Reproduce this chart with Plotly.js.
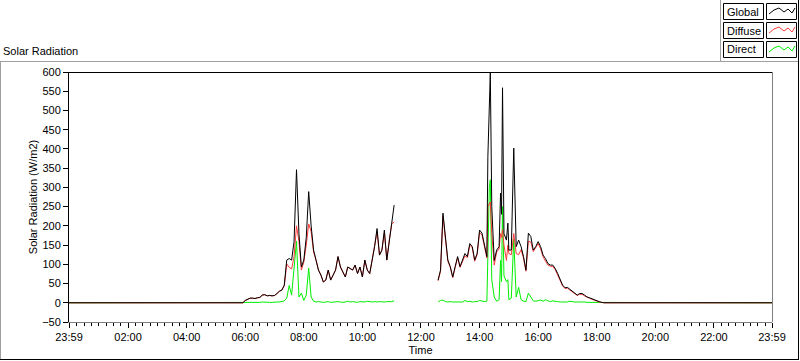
<!DOCTYPE html>
<html>
<head>
<meta charset="utf-8">
<script src="https://cdn.plot.ly/plotly-3.0.1.min.js"></script>
<style>html,body{margin:0;padding:0;background:#fff;}#chart{width:800px;height:361px;}</style>
</head>
<body>
<div id="chart"></div>
<script>
// ---- data ----
const seriesNames = ['Global', 'Diffuse', 'Direct'];
const times = ['23:59',
 '05:55','06:00','06:05','06:10','06:15','06:20','06:25','06:30','06:35','06:40','06:45','06:50','06:55',
 '07:00','07:05','07:10','07:15','07:20','07:25','07:30','07:35','07:40','07:45','07:50','07:55',
 '08:00','08:05','08:10','08:15','08:20','08:25','08:30','08:35','08:40','08:45','08:50','08:55',
 '09:00','09:05','09:10','09:15','09:20','09:25','09:30','09:35','09:40','09:45','09:50','09:55',
 '10:00','10:05','10:10','10:15','10:20','10:25','10:30','10:35','10:40','10:45','10:50','10:55',
 '11:00','11:05',
 '11:50',
 '12:35','12:40','12:45','12:50','12:55',
 '13:00','13:05','13:10','13:15','13:20','13:25','13:30','13:35','13:40','13:45','13:50','13:55',
 '14:00','14:05','14:10','14:15','14:17','14:20','14:22','14:25','14:30','14:35','14:40','14:43','14:45','14:47','14:50','14:55','14:58',
 '15:00','15:05','15:10','15:15','15:20','15:25','15:30','15:35','15:40','15:45','15:50','15:55',
 '16:00','16:05','16:10','16:15','16:20','16:25','16:30','16:35','16:40','16:45','16:50','16:55',
 '17:00','17:05','17:10','17:15','17:20','17:25','17:30','17:35','17:40','17:45','17:50','17:55',
 '18:00','18:05','18:10','18:15',
 '23:59'];

const globalRad = [0,
 0,6,9,12,12,11,13,14,20,21,18,19,18,
 19,24,30,33,46,111,115,111,159,346,180,93,
 111,170,289,200,137,111,85,72,54,59,85,59,
 72,85,120,93,80,67,93,89,85,98,76,93,
 67,111,85,76,111,146,193,124,137,189,111,163,
 211,254,
 null,
 59,85,233,163,111,
 94,67,94,120,94,111,128,120,154,146,111,128,
 189,181,146,120,380,520,598,250,110,137,146,285,230,559,180,163,207,
 137,137,402,146,163,146,120,85,181,172,137,146,
 159,146,124,115,102,98,98,89,76,63,46,39,
 40,35,30,24,20,24,24,20,15,13,10,7,
 5,3,1,0,
 0];

const diffuseRad = [0,
 0,6,9,12,12,11,13,14,20,21,18,19,18,
 19,24,30,33,44,101,92,88,120,200,160,85,
 106,150,205,185,132,111,85,72,54,59,85,59,
 72,85,120,93,80,67,93,89,85,98,76,93,
 67,111,85,76,111,140,185,124,137,182,111,163,
 205,210,
 null,
 57,82,225,160,108,
 92,65,92,117,92,109,122,117,150,143,108,125,
 183,176,142,116,250,259,262,180,98,132,140,180,170,190,150,110,150,
 128,125,180,128,125,138,116,82,160,158,133,142,
 154,140,120,108,98,95,94,86,73,61,44,37,
 38,33,28,22,19,22,22,18,14,12,9,6,
 4,2,1,0,
 0];

const directRad = [0,
 0,1,1,1,1,1,1,1,2,1,1,1,1,
 2,2,2,3,5,12,45,20,100,160,15,25,
 6,20,90,15,4,2,3,2,1,2,3,1,
 2,2,3,2,1,2,4,2,3,2,1,3,
 2,2,4,2,2,3,2,3,2,2,3,2,
 3,5,
 null,
 2,6,7,3,2,
 3,2,2,3,2,2,6,3,4,2,3,3,
 6,4,3,4,120,300,320,60,15,4,8,110,55,250,70,55,60,
 8,12,165,15,40,8,4,3,25,15,5,4,
 5,7,4,8,5,3,5,3,3,2,2,3,
 2,4,2,2,2,2,3,2,1,1,1,1,
 0,0,0,0,
 0];

const xTickVals = ['2010-06-14 23:59','2010-06-15 02:00','2010-06-15 04:00','2010-06-15 06:00','2010-06-15 08:00',
 '2010-06-15 10:00','2010-06-15 12:00','2010-06-15 14:00','2010-06-15 16:00','2010-06-15 18:00',
 '2010-06-15 20:00','2010-06-15 22:00','2010-06-15 23:59'];
const xTickText = ['23:59','02:00','04:00','06:00','08:00','10:00','12:00','14:00','16:00','18:00','20:00','22:00','23:59'];

// ---- build ----
const xs = times.map((t, i) => (i === 0 ? '2010-06-14 ' : '2010-06-15 ') + t);
const colors = {Global: '#000000', Diffuse: '#ff3b3b', Direct: '#00ee00'};
const FONT = {family: '"Liberation Sans", Arial, sans-serif', size: 11, color: '#000'};

const traces = [
  {x: xs, y: directRad, name: 'Direct', type: 'scatter', mode: 'lines', line: {color: colors.Direct, width: 1}, connectgaps: false},
  {x: xs, y: diffuseRad, name: 'Diffuse', type: 'scatter', mode: 'lines', line: {color: colors.Diffuse, width: 1}, connectgaps: false},
  {x: xs, y: globalRad, name: 'Global', type: 'scatter', mode: 'lines', line: {color: colors.Global, width: 1}, connectgaps: false}
];

const L = 69, T = 72, PW = 703, PH = 250;
const px = x => (x - L) / PW;
const py = y => (T + PH - y) / PH;
function seg(x0, y0, x1, y1, c) {
  return {type: 'line', xref: 'paper', yref: 'paper', x0: px(x0), y0: py(y0), x1: px(x1), y1: py(y1), line: {color: c, width: 1}};
}
function box(x0, y0, x1, y1) {
  return {type: 'rect', xref: 'paper', yref: 'paper', x0: px(x0), y0: py(y0), x1: px(x1), y1: py(y1), line: {color: '#000', width: 1}, fillcolor: '#fff'};
}

const shapes = [
  // plot frame (top black, right grey)
  seg(69, 72.5, 772, 72.5, '#000'),
  seg(772.5, 72, 772.5, 322, '#808080'),
  // outer panel frame
  seg(0, 61.5, 798, 61.5, '#a0a0a0'),
  seg(0.5, 61, 0.5, 360, '#a0a0a0'),
  seg(798.5, 0, 798.5, 360, '#000'),
  seg(0, 359.5, 799, 359.5, '#000'),
  seg(720.5, 0, 720.5, 61, '#a0a0a0')
];
const annotations = [];
const zig = [[769, 14], [774, 10], [779, 8], [784, 12], [788, 9], [792, 13], [795, 8]];
seriesNames.forEach((n, i) => {
  const oy = 3.5 + i * 19;
  shapes.push(box(723.5, oy, 763.5, oy + 16));
  shapes.push(box(766.5, oy, 796.5, oy + 16));
  const path = zig.map((p, k) => (k ? 'L' : 'M') + px(p[0]) + ',' + py(p[1] + i * 19)).join(' ');
  shapes.push({type: 'path', xref: 'paper', yref: 'paper', path: path, line: {color: colors[n], width: 1}});
  annotations.push({xref: 'paper', yref: 'paper', x: px(725), y: py(oy + 8), xanchor: 'left', yanchor: 'middle',
    text: n, showarrow: false, font: FONT});
});

const layout = {
  width: 800, height: 361,
  margin: {l: L, r: 800 - L - PW, t: T, b: 361 - T - PH, pad: 0},
  paper_bgcolor: '#fff', plot_bgcolor: '#fff',
  showlegend: false,
  font: FONT,
  title: {text: 'Solar Radiation', xref: 'container', yref: 'container', x: 3 / 800, xanchor: 'left', y: 1 - 51 / 361, yanchor: 'middle', font: FONT},
  xaxis: {
    type: 'date', range: ['2010-06-14 23:59', '2010-06-15 23:59'],
    tickmode: 'array', tickvals: xTickVals, ticktext: xTickText,
    ticks: 'outside', ticklen: 5, tickcolor: '#000', tickwidth: 1,
    minor: {tickmode: 'linear', tick0: '2010-06-15 00:00', dtick: 15 * 60 * 1000, ticks: 'outside', ticklen: 3, tickcolor: '#000', showgrid: false},
    showgrid: false, zeroline: false, showline: true, linecolor: '#808080', linewidth: 1,
    tickfont: FONT, automargin: false,
    title: {text: 'Time', font: FONT, standoff: 4}
  },
  yaxis: {
    range: [-50, 600], tickmode: 'linear', tick0: 0, dtick: 50,
    ticks: 'outside', ticklen: 5, tickcolor: '#000', tickwidth: 1,
    showgrid: false, zeroline: false, showline: true, linecolor: '#000', linewidth: 1,
    tickfont: FONT, automargin: false,
    title: {text: 'Solar Radiation (W/m2)', font: FONT, standoff: 2}
  },
  shapes: shapes,
  annotations: annotations
};

Plotly.newPlot('chart', traces, layout, {staticPlot: true, displayModeBar: false});
</script>
</body>
</html>
